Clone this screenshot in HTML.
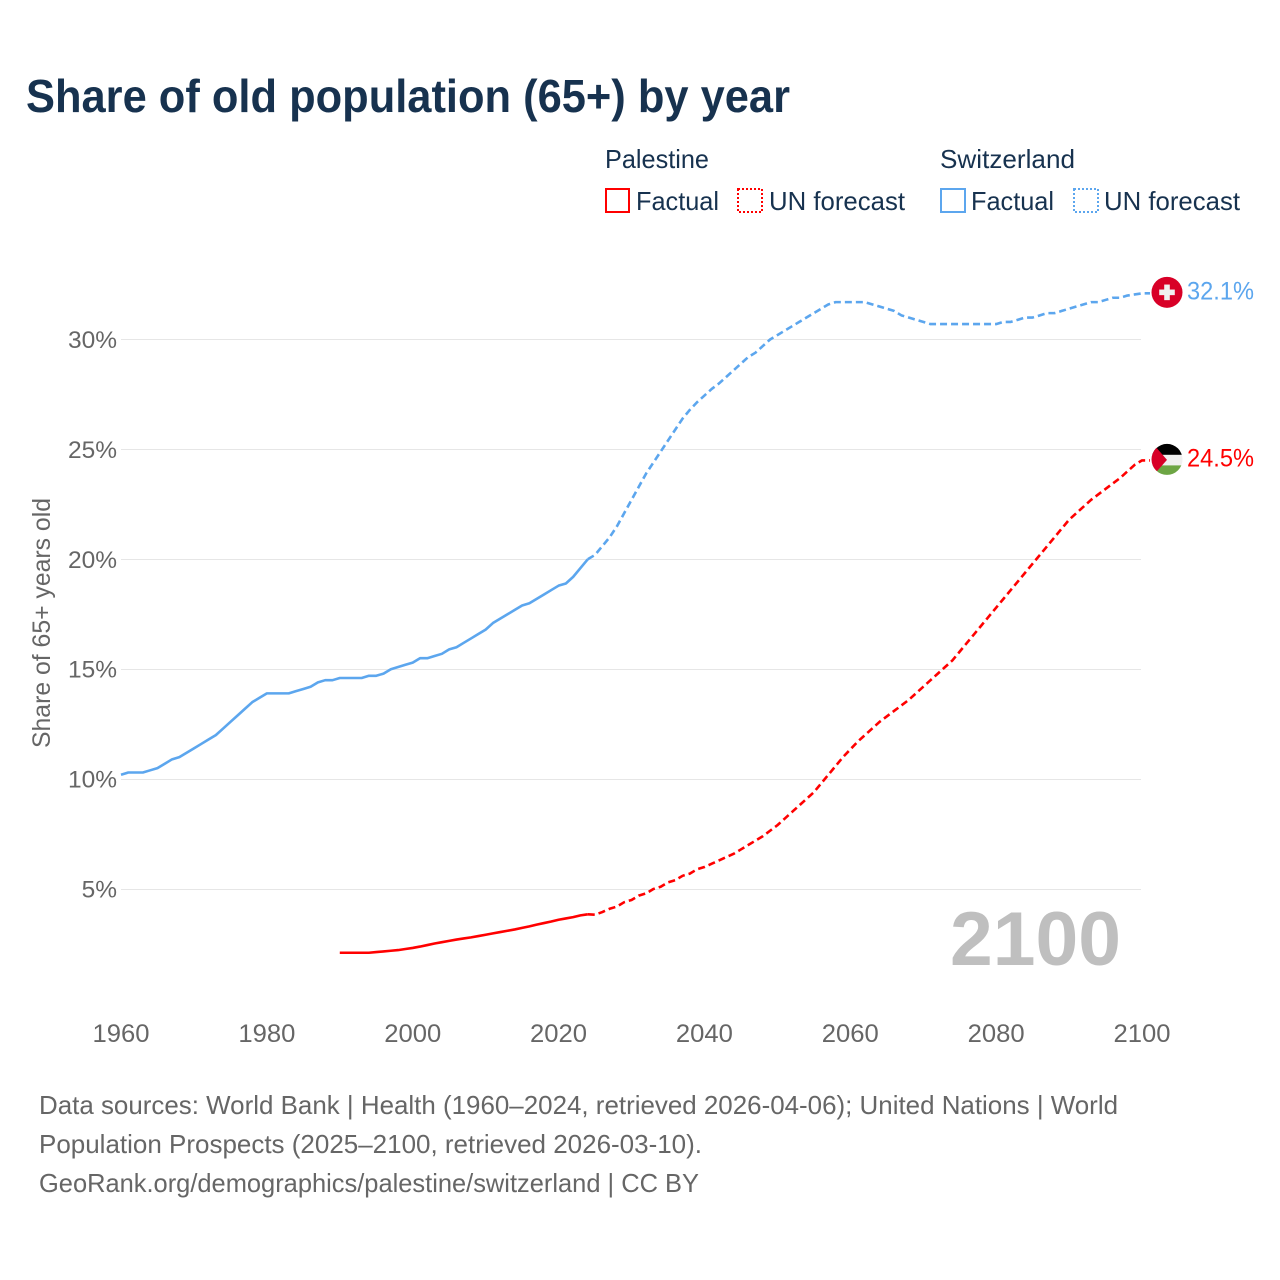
<!DOCTYPE html>
<html lang="en">
<head>
<meta charset="utf-8">
<title>Share of old population (65+) by year</title>
<style>
html,body{margin:0;padding:0;background:#fff;}
svg{display:block;font-family:"Liberation Sans",sans-serif;}
</style>
</head>
<body>
<svg id="chart" xmlns="http://www.w3.org/2000/svg" width="1280" height="1280" viewBox="0 0 1280 1280">
  <rect x="0" y="0" width="1280" height="1280" fill="#ffffff"/>
  <text x="26" y="112" font-size="46" font-weight="700" fill="#17324f" textLength="764" lengthAdjust="spacingAndGlyphs">Share of old population (65+) by year</text>

  <g font-size="26" fill="#17324f">
    <text x="605" y="168" textLength="104" lengthAdjust="spacingAndGlyphs">Palestine</text>
    <text x="940" y="168" textLength="135" lengthAdjust="spacingAndGlyphs">Switzerland</text>
    <rect x="606" y="189" width="23" height="23" fill="none" stroke="#ff0000" stroke-width="2"/>
    <text x="636" y="210" textLength="83" lengthAdjust="spacingAndGlyphs">Factual</text>
    <rect x="738" y="189" width="24" height="23" fill="none" stroke="#ff0000" stroke-width="2" stroke-dasharray="2 2"/>
    <text x="769" y="210" textLength="136" lengthAdjust="spacingAndGlyphs">UN forecast</text>
    <rect x="941" y="189" width="24" height="23" fill="none" stroke="#5ca6ee" stroke-width="2"/>
    <text x="971" y="210" textLength="83" lengthAdjust="spacingAndGlyphs">Factual</text>
    <rect x="1074" y="189" width="24" height="23" fill="none" stroke="#5ca6ee" stroke-width="2" stroke-dasharray="2 2"/>
    <text x="1104" y="210" textLength="136" lengthAdjust="spacingAndGlyphs">UN forecast</text>
  </g>

  <g id="grid"></g>
  <g id="yTicks" font-size="24.5" fill="#666666" text-anchor="end"></g>
  <g id="xTicks" font-size="25" fill="#666666" text-anchor="middle"></g>
  <text transform="translate(50,748) rotate(-90)" font-size="25" fill="#666666" textLength="250" lengthAdjust="spacingAndGlyphs">Share of 65+ years old</text>

  <text id="yearWatermark" x="950" y="965" font-size="76" font-weight="700" fill="#bfbfbf" textLength="171" lengthAdjust="spacingAndGlyphs">2100</text>

  <g id="series" fill="none" stroke-width="2.6" stroke-linejoin="round"></g>

  <defs>
    <clipPath id="palClip"><circle cx="0" cy="0" r="15.5"/></clipPath>
  </defs>
  <g id="flagCH">
    <circle cx="0" cy="0" r="15.5" fill="#d80027"/>
    <rect x="-7.8" y="-2.8" width="15.6" height="5.6" fill="#f0f0f0"/>
    <rect x="-2.8" y="-7.8" width="5.6" height="15.6" fill="#f0f0f0"/>
  </g>
  <g id="flagPS" clip-path="url(#palClip)">
    <rect x="-16" y="-16" width="32" height="11.5" fill="#000000"/>
    <rect x="-16" y="-4.5" width="32" height="10.5" fill="#f0f0f0"/>
    <rect x="-16" y="6" width="32" height="10" fill="#6da544"/>
    <polygon points="-16,-18 -16,18.5 0,0.5" fill="#d80027"/>
  </g>
  <text id="labelCH" x="1187" font-size="25" fill="#5ca6ee" textLength="67" lengthAdjust="spacingAndGlyphs"></text>
  <text id="labelPS" x="1187" font-size="25" fill="#ff0000" textLength="67" lengthAdjust="spacingAndGlyphs"></text>

  <g font-size="26" fill="#666666">
    <text x="39" y="1114" textLength="1079" lengthAdjust="spacingAndGlyphs">Data sources: World Bank | Health (1960–2024, retrieved 2026-04-06); United Nations | World</text>
    <text x="39" y="1153" textLength="663" lengthAdjust="spacingAndGlyphs">Population Prospects (2025–2100, retrieved 2026-03-10).</text>
    <text x="39" y="1192" textLength="660" lengthAdjust="spacingAndGlyphs">GeoRank.org/demographics/palestine/switzerland | CC BY</text>
  </g>
</svg>

<script>
const yTickValues = [5, 10, 15, 20, 25, 30];
const xTickYears = [1960, 1980, 2000, 2020, 2040, 2060, 2080, 2100];
const lastFactualYear = 2024;
const switzerlandStartYear = 1960;
const switzerlandValues = [
  10.2,10.3,10.3,10.3,10.4,10.5,10.7,10.9,11.0,11.2,
  11.4,11.6,11.8,12.0,12.3,12.6,12.9,13.2,13.5,13.7,
  13.9,13.9,13.9,13.9,14.0,14.1,14.2,14.4,14.5,14.5,
  14.6,14.6,14.6,14.6,14.7,14.7,14.8,15.0,15.1,15.2,
  15.3,15.5,15.5,15.6,15.7,15.9,16.0,16.2,16.4,16.6,
  16.8,17.1,17.3,17.5,17.7,17.9,18.0,18.2,18.4,18.6,
  18.8,18.9,19.2,19.6,20.0,20.2,20.6,21.0,21.5,22.1,
  22.7,23.3,23.9,24.4,24.9,25.4,25.9,26.4,26.8,27.15,
  27.45,27.75,28.0,28.3,28.6,28.9,29.2,29.4,29.7,30.0,
  30.2,30.4,30.6,30.8,31.0,31.2,31.4,31.6,31.7,31.7,
  31.7,31.7,31.7,31.6,31.5,31.4,31.3,31.1,31.0,30.9,
  30.8,30.7,30.7,30.7,30.7,30.7,30.7,30.7,30.7,30.7,
  30.7,30.8,30.8,30.9,31.0,31.0,31.1,31.2,31.2,31.3,
  31.4,31.5,31.6,31.7,31.7,31.8,31.9,31.9,32.0,32.05,
  32.1
];
const palestineStartYear = 1990;
const palestineValues = [
  2.1,2.1,2.1,2.1,2.1,2.13,2.16,2.19,2.22,2.27,
  2.32,2.38,2.45,2.52,2.58,2.64,2.7,2.75,2.8,2.86,
  2.92,2.98,3.04,3.1,3.16,3.23,3.3,3.38,3.45,3.52,
  3.6,3.66,3.72,3.8,3.85,3.83,
  3.95,4.1,4.2,4.4,4.5,4.7,4.8,5.0,5.1,5.3,
  5.4,5.6,5.7,5.9,6.0,6.15,6.3,6.45,6.6,6.8,
  7.0,7.2,7.4,7.65,7.9,8.2,8.5,8.8,9.1,9.4,
  9.8,10.2,10.6,11.0,11.35,11.7,12.0,12.3,12.6,12.85,
  13.1,13.35,13.6,13.9,14.2,14.5,14.8,15.1,15.4,15.8,
  16.2,16.6,17.0,17.4,17.8,18.2,18.6,19.0,19.4,19.8,
  20.2,20.6,21.0,21.4,21.8,22.1,22.4,22.7,22.95,23.2,
  23.45,23.7,24.0,24.3,24.5
];
const switzerlandColor = '#5ca6ee';
const palestineColor = '#ff0000';

const SVG_NS = 'http://www.w3.org/2000/svg';
function xScale(year) { return 121 + (year - 1960) * (1142 - 121) / 140; }
function yScale(v) { return 889 - (v - 5) * (889 - 339.5) / 25; }

const grid = document.getElementById('grid');
const yTicks = document.getElementById('yTicks');
yTickValues.forEach(function (v) {
  const line = document.createElementNS(SVG_NS, 'line');
  
  
  line.setAttribute('x1', 121);
  line.setAttribute('x2', 1141);
  line.setAttribute('y1', Math.floor(yScale(v)) + 0.5);
  line.setAttribute('y2', Math.floor(yScale(v)) + 0.5);
  line.setAttribute('stroke', '#e6e6e6');
  line.setAttribute('stroke-width', '1');
  grid.appendChild(line);
  const t = document.createElementNS(SVG_NS, 'text');
  
  
  t.setAttribute('x', 117);
  t.setAttribute('y', yScale(v) + 8.5);
  t.textContent = v + '%';
  yTicks.appendChild(t);
});

const xTicks = document.getElementById('xTicks');
xTickYears.forEach(function (yr) {
  const t = document.createElementNS(SVG_NS, 'text');
  
  
  t.setAttribute('x', xScale(yr));
  t.setAttribute('y', 1042);
  t.setAttribute('textLength', 57);
  t.setAttribute('lengthAdjust', 'spacingAndGlyphs');
  t.textContent = yr;
  xTicks.appendChild(t);
});

function pathFor(startYear, values, fromYear, toYear, tailToMarker) {
  let d = '';
  values.forEach(function (v, i) {
    const yr = startYear + i;
    if (yr < fromYear || yr > toYear) return;
    d += (d ? 'L' : 'M') + xScale(yr).toFixed(2) + ' ' + yScale(v).toFixed(2);
  });
  if (tailToMarker) {
    d += 'L' + (xScale(toYear) + 8).toFixed(2) + ' ' + yScale(values[values.length - 1]).toFixed(2);
  }
  return d;
}

const seriesGroup = document.getElementById('series');

const chFactual = document.createElementNS(SVG_NS, 'path');


chFactual.setAttribute('d', pathFor(switzerlandStartYear, switzerlandValues, 1960, lastFactualYear, false));
chFactual.setAttribute('stroke', switzerlandColor);
seriesGroup.appendChild(chFactual);

const chForecast = document.createElementNS(SVG_NS, 'path');


chForecast.setAttribute('d', pathFor(switzerlandStartYear, switzerlandValues, lastFactualYear, 2100, true));
chForecast.setAttribute('stroke', switzerlandColor);
chForecast.setAttribute('stroke-dasharray', '7 4');
seriesGroup.appendChild(chForecast);

const psFactual = document.createElementNS(SVG_NS, 'path');


psFactual.setAttribute('d', pathFor(palestineStartYear, palestineValues, 1990, lastFactualYear, false));
psFactual.setAttribute('stroke', palestineColor);
seriesGroup.appendChild(psFactual);

const psForecast = document.createElementNS(SVG_NS, 'path');


psForecast.setAttribute('d', pathFor(palestineStartYear, palestineValues, lastFactualYear, 2100, true));
psForecast.setAttribute('stroke', palestineColor);
psForecast.setAttribute('stroke-dasharray', '7 4');
seriesGroup.appendChild(psForecast);

const chLast = switzerlandValues[switzerlandValues.length - 1];
const psLast = palestineValues[palestineValues.length - 1];
document.getElementById('flagCH').setAttribute('transform', 'translate(1167,' + (yScale(chLast) - 1) + ')');
document.getElementById('flagPS').setAttribute('transform', 'translate(1167,' + (yScale(psLast) - 1) + ')');
const labelCH = document.getElementById('labelCH');
labelCH.setAttribute('y', yScale(chLast) + 6);
labelCH.textContent = chLast.toFixed(1) + '%';
const labelPS = document.getElementById('labelPS');
labelPS.setAttribute('y', yScale(psLast) + 6);
labelPS.textContent = psLast.toFixed(1) + '%';
</script>
</body>
</html>
